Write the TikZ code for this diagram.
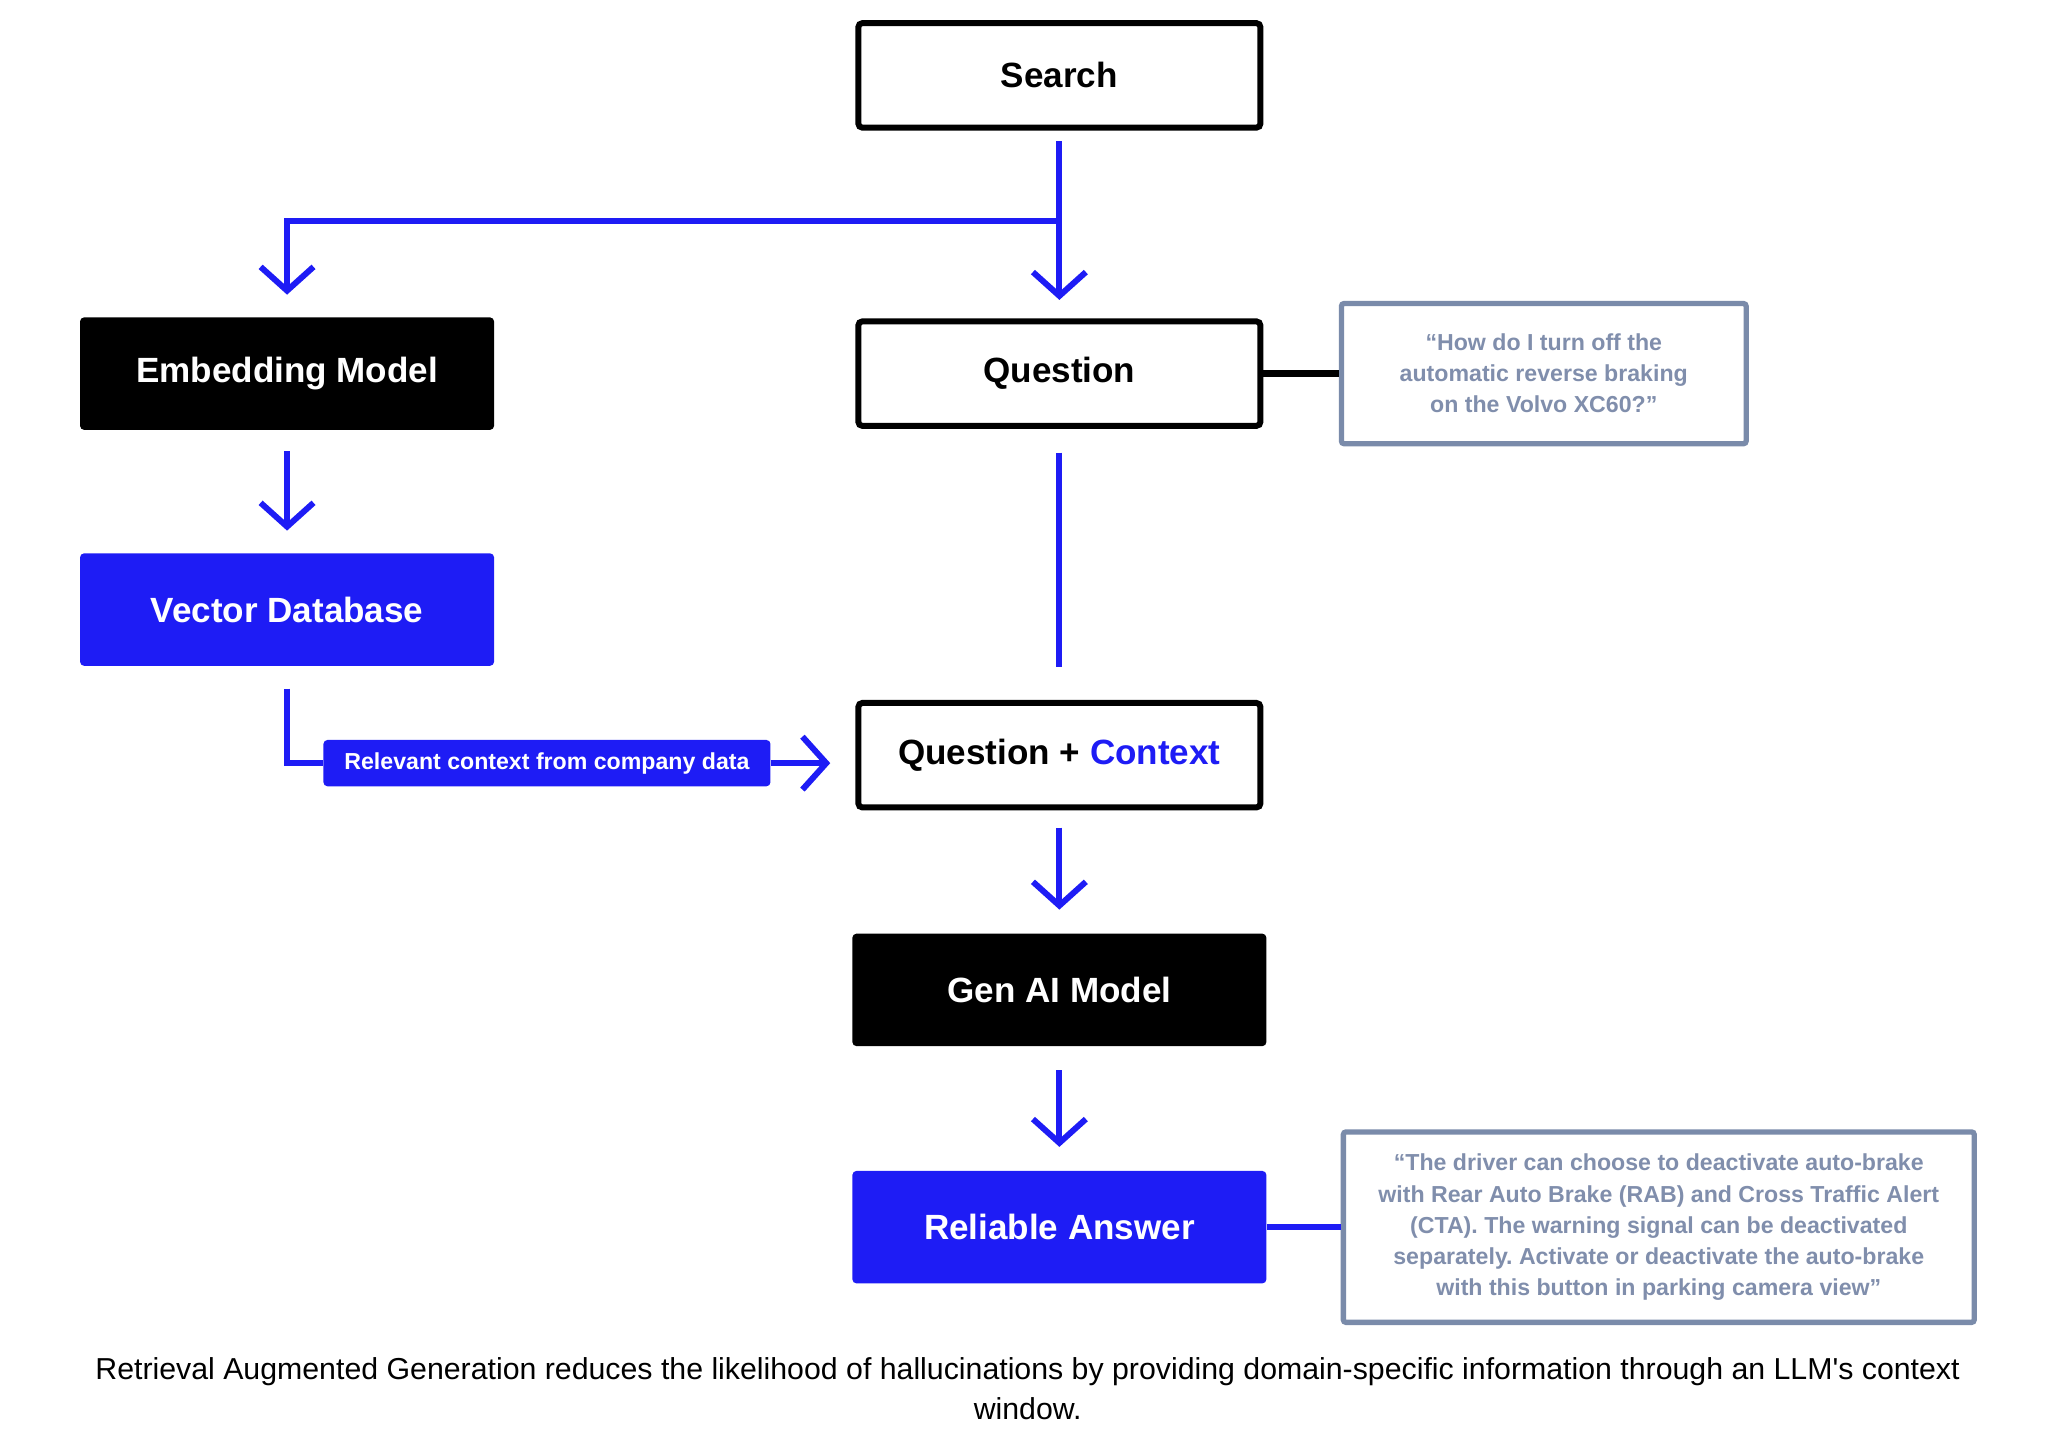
\documentclass[tikz,border=0pt]{standalone}
\usepackage{fontspec}
\setmainfont{Liberation Sans}
\usetikzlibrary{arrows.meta, positioning}
\definecolor{ragblue}{RGB}{30,28,245}
\definecolor{slate}{RGB}{122,139,170}
\definecolor{quotegray}{RGB}{128,142,172}
\newcommand{\straightq}{\XeTeXglyph\XeTeXcharglyph"27\relax}
\frenchspacing
\tikzset{
  box/.style={rectangle, rounded corners=3pt, font=\bfseries\fontsize{26.5}{30}\selectfont},
  whitebox/.style={box, draw=black, fill=white, line width=4.5pt, minimum width=304pt, minimum height=79pt},
  blackbox/.style={box, fill=black, text=white, minimum width=313pt, minimum height=85pt},
  bluebox/.style={box, fill=ragblue, text=white, minimum width=313pt, minimum height=85pt},
  quotebox/.style={rectangle, rounded corners=2pt, draw=slate, line width=4pt, fill=white, text=quotegray, align=center, font=\bfseries\fontsize{17.5}{23.5}\selectfont},
  flow/.style={draw=ragblue, line width=4.5pt, -{Straight Barb[length=18pt, width=40pt]}},
  link/.style={draw=ragblue, line width=4.5pt}
}
\begin{document}
\begin{tikzpicture}[x=1pt, y=1pt]
  \useasboundingbox (0,0) rectangle (1550,-1083);
  \node[whitebox] (search) at (801,-57) {Search};
  \coordinate[below=68pt of search] (split);
  \node[whitebox, below=142pt of search] (question) {Question};
  \node[blackbox, left=273pt of question] (embed) {Embedding Model};
  \node[bluebox, below=93pt of embed] (vecdb) {Vector Database};
  \node[whitebox, below=205pt of question] (qctx) {Question + \textcolor{ragblue}{Context}};
  \node[blackbox, below=93pt of qctx] (genai) {Gen AI Model};
  \node[bluebox, below=94pt of genai] (answer) {Reliable Answer};
  \node[box, fill=ragblue, text=white, font=\bfseries\fontsize{17.5}{20}\selectfont, minimum width=338pt, minimum height=35pt, left=64pt of qctx, yshift=-6pt] (ctxlabel) {Relevant context from company data};
  \node[quotebox, minimum width=306pt, minimum height=106pt, right=57pt of question] (qquote) {“How do I turn off the\\automatic reverse braking\\on the Volvo XC60?”};
  \node[quotebox, minimum width=477pt, minimum height=144pt, right=56pt of answer] (aquote) {“The driver can choose to deactivate auto-brake\\with Rear Auto Brake (RAB) and Cross Traffic Alert\\(CTA). The warning signal can be deactivated\\separately. Activate or deactivate the auto-brake\\with this button in parking camera view”};
  \node[font=\fontsize{22.9}{30}\selectfont, align=center] (caption) at (777,-1050) {Retrieval Augmented Generation reduces the likelihood of hallucinations by providing domain-specific information through an LLM\straightq s context\\window.};
  \draw[flow, shorten <=8pt, shorten >=14pt] (search) -- (question);
  \draw[flow, shorten >=17pt] (split) -| (embed);
  \draw[flow, shorten <=16pt, shorten >=17pt] (embed) -- (vecdb);
  \draw[link, shorten <=18pt, shorten >=25pt] (question) -- (qctx);
  \draw[link, shorten <=17pt] (vecdb) |- (ctxlabel);
  \draw[flow, shorten >=19pt] (ctxlabel.east) -- (ctxlabel.east -| qctx.west);
  \draw[flow, shorten <=13pt, shorten >=18pt] (qctx) -- (genai);
  \draw[flow, shorten <=18pt, shorten >=18pt] (genai) -- (answer);
  \draw[line width=5pt] (question) -- (qquote);
  \draw[link, line width=5pt] (answer) -- (aquote);
\end{tikzpicture}
\end{document}
